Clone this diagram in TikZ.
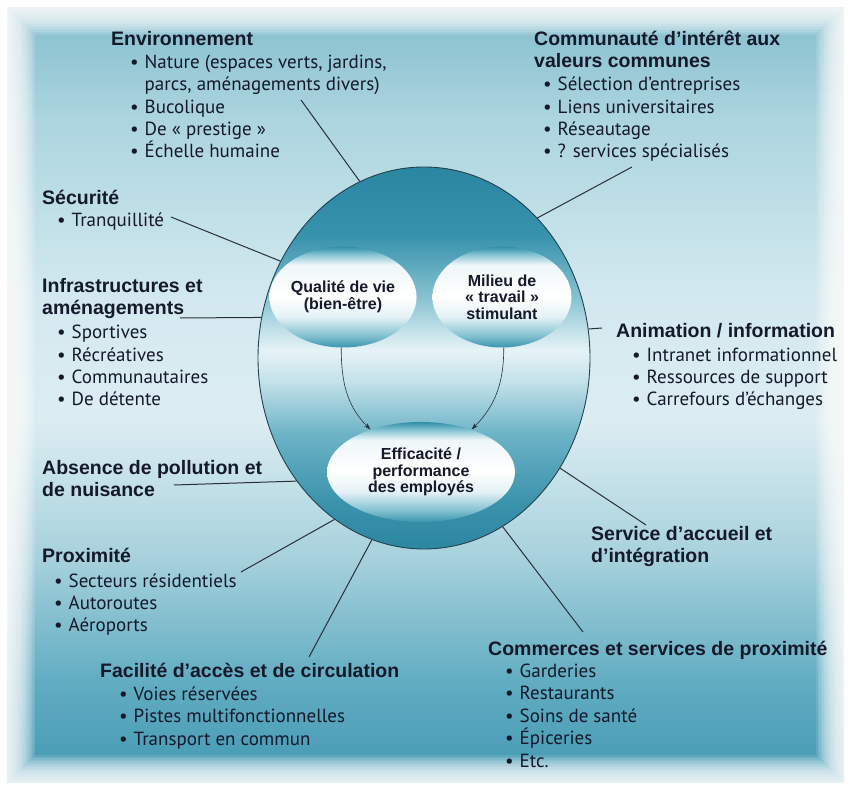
\documentclass[tikz,border=0pt]{standalone}
\usepackage{fontspec}
\setmainfont{PT Sans}
\newfontfamily\headfont{Liberation Sans}
\usepackage{tikz}
\usetikzlibrary{arrows.meta, positioning, shapes.geometric}

\definecolor{encre}{HTML}{15192A}
\definecolor{trait}{HTML}{2A2F3A}
\definecolor{contour}{HTML}{23414F}
% fond
\definecolor{fondA}{HTML}{88C0CF}
\definecolor{fondB}{HTML}{ACD5DF}
\definecolor{fondC}{HTML}{D3E9EF}
\definecolor{fondD}{HTML}{DCEDF2}
\definecolor{fondE}{HTML}{A6D1DC}
\definecolor{fondF}{HTML}{62ADC2}
\definecolor{fondG}{HTML}{4A9DB6}
% grande ellipse
\definecolor{parcA}{HTML}{2A86A1}
\definecolor{parcB}{HTML}{3792AC}
\definecolor{parcC}{HTML}{86C2D1}
\definecolor{parcD}{HTML}{E6F3F6}
\definecolor{parcE}{HTML}{C4E2EA}
\definecolor{parcF}{HTML}{6CB3C6}
\definecolor{parcG}{HTML}{3A92AB}
\definecolor{parcH}{HTML}{2C87A1}
% bulles
\definecolor{bulleA}{HTML}{2E8EA8}
\definecolor{bulleB}{HTML}{86C4D3}
\definecolor{bulleC}{HTML}{EEF7F9}
\definecolor{bulleD}{HTML}{E3F1F5}
\definecolor{bulleE}{HTML}{84C2D1}
\definecolor{bulleF}{HTML}{3A95AE}

\pgfdeclareverticalshading{fondshade}{100bp}{color(0bp)=(fondG); color(27bp)=(fondG);
  color(32bp)=(fondF); color(39.6bp)=(fondE); color(48.4bp)=(fondD); color(56bp)=(fondC);
  color(67.4bp)=(fondB); color(73.7bp)=(fondA); color(100bp)=(fondA)}
\pgfdeclareverticalshading{parcshade}{100bp}{color(0bp)=(parcH); color(25bp)=(parcH);
  color(31bp)=(parcG); color(40bp)=(parcF); color(47bp)=(parcE); color(51bp)=(parcD);
  color(58bp)=(parcC); color(66bp)=(parcB); color(75bp)=(parcA); color(100bp)=(parcA)}
\pgfdeclareverticalshading{bulleshade}{100bp}{color(0bp)=(bulleF); color(25bp)=(bulleF);
  color(31bp)=(bulleE); color(40bp)=(bulleD); color(50bp)=(white); color(66bp)=(bulleC);
  color(71bp)=(bulleB); color(75bp)=(bulleA); color(100bp)=(bulleA)}

\newcommand\puce{\makebox[14.5pt][l]{\textbullet}}

\begin{document}
\begin{tikzpicture}[x=1pt, y=1pt,
  titre/.style={anchor=base west, inner sep=0pt, align=left, text=encre,
    font=\headfont\bfseries\fontsize{19.5}{22}\selectfont},
  liste/.style={anchor=base west, inner sep=0pt, align=left, text=encre,
    font=\fontsize{19}{22.4}\selectfont},
  bulle/.style={ellipse, inner sep=0pt, shade, shading=bulleshade, align=center,
    text=encre, font=\headfont\bfseries\fontsize{16}{16.5}\selectfont},
  lien/.style={draw=trait, line width=1pt},
  fleche/.style={draw=trait, line width=0.6pt, -{Stealth[length=7pt, width=4.5pt]}}
]
\useasboundingbox (0,0) rectangle (851,790);

% Fond
\shade[shading=fondshade] (0,0) rectangle (851,790);
\foreach \w in {16,19,...,70}
  \draw[white, opacity=0.11, line width=\w pt] (0,0) rectangle (851,790);
\draw[white, line width=14pt] (0,0) rectangle (851,790);

% Ellipses
\node[ellipse, minimum width=332pt, minimum height=382pt, draw=contour,
  line width=0.9pt, shade, shading=parcshade] (parc) at (424,432) {};
\node[bulle, minimum width=139pt, minimum height=101pt] (qualite) at (343,493)
  {Qualité de vie\\(bien-être)};
\node[bulle, minimum width=139pt, minimum height=101pt] (travail) at (502,493)
  {Milieu de\\« travail »\\stimulant};
\node[bulle, minimum width=188pt, minimum height=100pt] (effic) at (421,318)
  {Efficacité /\\performance\\des employés};

\draw[fleche] (qualite.268) to[out=-90, in=135] (effic.140);
\draw[fleche] (travail.272) to[out=-90, in=45] (effic.40);

% Textes (ancre = ligne de base de la derniere ligne)
\node[titre] (env) at (111,744) {Environnement};
\node[liste] (envl) at (130,632) {\puce Nature (espaces verts, jardins,\\
  \hspace*{14.5pt}parcs, aménagements divers)\\\puce Bucolique\\
  \puce De « prestige »\\\puce Échelle humaine};
\node[titre] (commu) at (534,722) {Communauté d’intérêt aux\\valeurs communes};
\node[liste] (commul) at (543,632) {\puce Sélection d’entreprises\\
  \puce Liens universitaires\\\puce Réseautage\\\puce ? services spécialisés};
\node[titre] (secu) at (42,585) {Sécurité};
\node[liste] (secul) at (57,563) {\puce Tranquillité};
\node[titre] (infra) at (42,475) {Infrastructures et\\aménagements};
\node[liste] (infral) at (57,384) {\puce Sportives\\\puce Récréatives\\
  \puce Communautaires\\\puce De détente};
\node[titre] (anim) at (616,452) {Animation / information};
\node[liste] (animl) at (632,384) {\puce Intranet informationnel\\
  \puce Ressources de support\\\puce Carrefours d’échanges};
\node[titre] (pollu) at (42,293) {Absence de pollution et\\de nuisance};
\node[titre] (accueil) at (591,227) {Service d’accueil et\\d’intégration};
\node[titre] (proxi) at (42,227) {Proximité};
\node[liste] (proxil) at (54,158) {\puce Secteurs résidentiels\\
  \puce Autoroutes\\\puce Aéroports};
\node[titre] (comm) at (488,135) {Commerces et services de proximité};
\node[liste] (comml) at (505,23) {\puce Garderies\\\puce Restaurants\\
  \puce Soins de santé\\\puce Épiceries\\\puce Etc.};
\node[titre] (acces) at (100,113) {Facilité d’accès et de circulation};
\node[liste] (accesl) at (119,45) {\puce Voies réservées\\
  \puce Pistes multifonctionnelles\\\puce Transport en commun};

% Liens
\coordinate (p1) at (301,690);
\coordinate (p2) at (632,623);
\coordinate (p3) at (171,573);
\coordinate (p4) at (180,472);
\coordinate (p5) at (602,462);
\coordinate (p6) at (174,305);
\coordinate (p7) at (646,265);
\coordinate (p8) at (241,218);
\coordinate (p9) at (309,133);
\coordinate (p10) at (583,158);
\draw[lien] (p1) -- (parc.110);
\draw[lien] (p2) -- (parc.51);
\draw[lien] (p3) -- (parc.146);
\draw[lien] (p4) -- (parc.166);
\draw[lien] (parc.10) -- (p5);
\draw[lien] (p6) -- (parc.224);
\draw[lien] (parc.321) -- (p7);
\draw[lien] (p8) -- (parc.241);
\draw[lien] (p9) -- (parc.254);
\draw[lien] (parc.295) -- (p10);
\end{tikzpicture}
\end{document}
